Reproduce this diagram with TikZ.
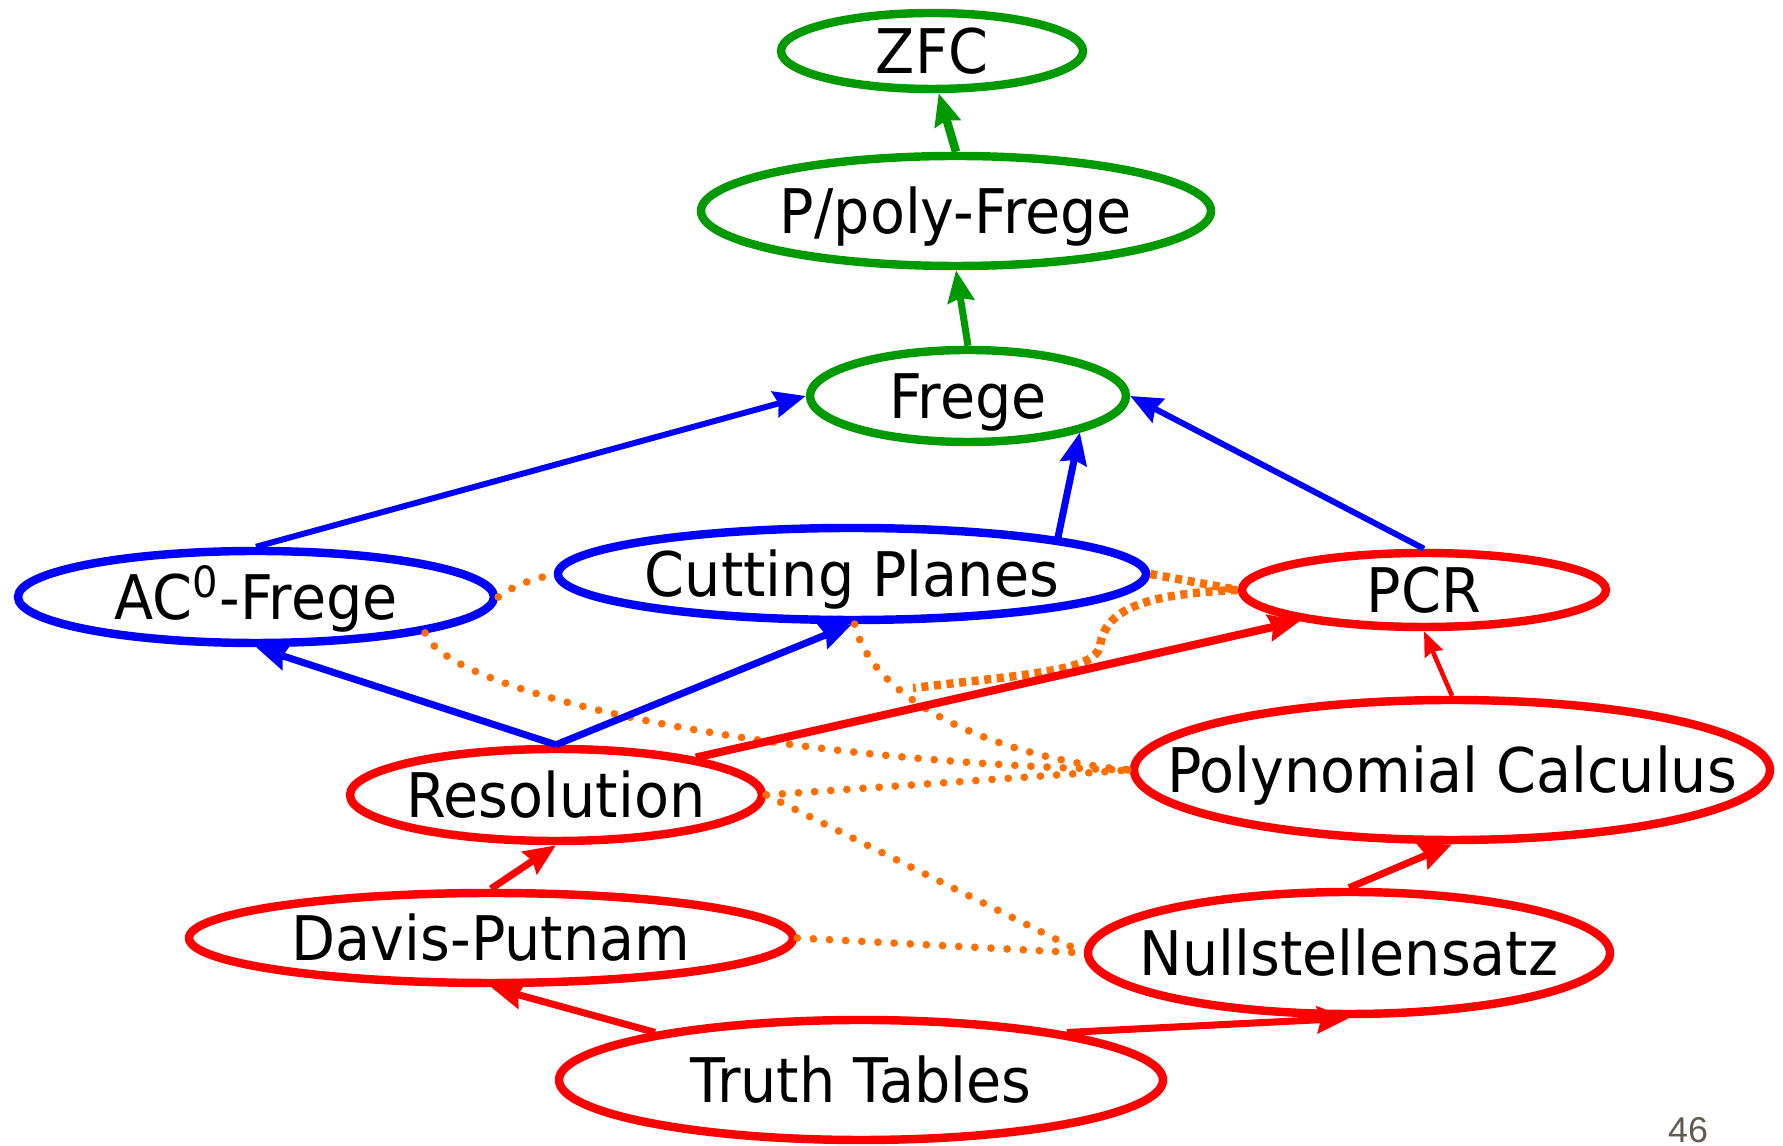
\documentclass[tikz,border=0pt]{standalone}
\usepackage{fontspec}
\setmainfont{DejaVu Sans}[FakeStretch=0.93]
\newfontfamily\pagefont{Liberation Sans}
\definecolor{pfgreen}{RGB}{0,153,0}
\definecolor{pfblue}{RGB}{0,0,255}
\definecolor{pfred}{RGB}{255,0,0}
\definecolor{pforange}{RGB}{255,110,0}
\definecolor{pfgray}{RGB}{96,90,80}
\usetikzlibrary{arrows.meta,shapes.geometric}

\begin{document}
\begin{tikzpicture}[
  sys/.style={ellipse, draw, line width=2.4pt, text=black, inner xsep=-3cm, inner ysep=-1cm,
    text height=12.8pt, text depth=0pt, font=\fontsize{17.5}{21}\selectfont},
  imp/.style={-{Stealth[length=9pt,width=7.5pt,inset=1pt]}, line width=2pt},
  dotline/.style={pforange, line width=2.2pt, line cap=round, dash pattern=on 0pt off 4.6pt},
  sqline/.style={pforange, line width=2.4pt, dash pattern=on 2pt off 1.6pt}
]
  \useasboundingbox (0,0) rectangle (17.83,11.46);
  % Proof systems
  \node[sys, draw=pfgreen, minimum width=3.02cm, minimum height=0.76cm] (zfc) at (9.32,10.95) {ZFC};
  \node[sys, draw=pfgreen, minimum width=5.10cm, minimum height=1.10cm] (ppoly) at (9.56,9.35) {P/poly-Frege};
  \node[sys, draw=pfgreen, minimum width=3.16cm, minimum height=0.92cm] (frege) at (9.68,7.50) {Frege};
  \node[sys, draw=pfblue, minimum width=4.76cm, minimum height=0.92cm] (acfrege) at (2.56,5.49) {AC\textsuperscript{0}-Frege};
  \node[sys, draw=pfblue, minimum width=5.88cm, minimum height=0.92cm] (cp) at (8.52,5.72) {Cutting Planes};
  \node[sys, draw=pfred, minimum width=3.64cm, minimum height=0.74cm] (pcr) at (14.24,5.56) {PCR};
  \node[sys, draw=pfred, minimum width=4.12cm, minimum height=0.92cm] (res) at (5.56,3.51) {Resolution};
  \node[sys, draw=pfred, minimum width=6.36cm, minimum height=1.40cm] (pc) at (14.52,3.76) {Polynomial Calculus};
  \node[sys, draw=pfred, minimum width=6.04cm, minimum height=0.90cm] (dp) at (4.91,2.08) {Davis-Putnam};
  \node[sys, draw=pfred, minimum width=5.22cm, minimum height=1.22cm] (nss) at (13.49,1.93) {Nullstellensatz};
  \node[sys, draw=pfred, minimum width=6.04cm, minimum height=1.20cm] (tt) at (8.61,0.66) {Truth Tables};
  % Incomparable pairs
  \draw[dotline] (acfrege.east) to[out=35,in=195] (cp.west);
  \draw[dotline] (acfrege.-12) .. controls (4.45,4.55) and (7.5,3.85) .. (pc.west);
  \draw[dotline] (cp.-87) .. controls (8.75,4.35) and (10.2,3.85) .. (pc.west);
  \draw[dotline] (res.east) -- (pc.west);
  \draw[dotline] (res.east) -- (nss.west);
  \draw[dotline] (dp.east) -- (nss.west);
  \draw[sqline] (cp.east) -- (pcr.west);
  \coordinate (pcrend) at (9.13,4.58);
  \draw[sqline] (pcr.west) .. controls (11.4,5.52) and (11.05,5.35) .. (11.0,5.0)
    .. controls (10.95,4.75) and (10.3,4.72) .. (pcrend);
  % Simulations, green
  \draw[imp, pfgreen] (frege.north) -- (ppoly.south);
  \draw[imp, pfgreen, line width=2.4pt] (ppoly.north) -- (zfc.-81);
  % Simulations, blue
  \draw[imp, pfblue, line width=1.7pt] (acfrege.north) -- (frege.west);
  \draw[imp, pfblue] (cp.10) -- (frege.-18);
  \draw[imp, pfblue, line width=1.7pt] (pcr.north) -- (frege.east);
  \draw[imp, pfblue] (res.north) -- (acfrege.south);
  \draw[imp, pfblue] (res.north) -- (cp.south);
  % Simulations, red
  \draw[imp, pfred, line width=2.3pt] (res.15) -- (pcr.194);
  \draw[-{Stealth[length=7pt,width=5.5pt,inset=0.8pt]}, pfred, line width=1.3pt] (pc.north) -- (pcr.south);
  \draw[imp, pfred] (dp.north) -- (res.south);
  \draw[imp, pfred] (nss.north) -- (pc.south);
  \draw[imp, pfred] (tt.167) -- (dp.south);
  \draw[imp, pfred] (tt.13) -- (nss.south);
  % Slide number
  \node[font=\pagefont\fontsize{10.2}{12}\selectfont, text=pfgray, anchor=base] (pagenum) at (16.88,0.03) {46};
\end{tikzpicture}
\end{document}
